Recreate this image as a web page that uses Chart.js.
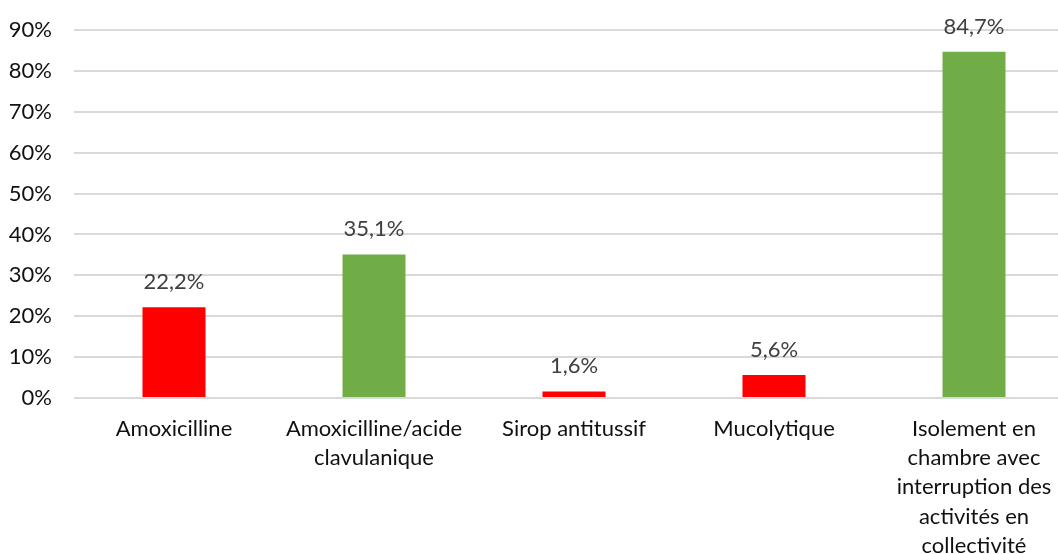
<!DOCTYPE html>
<html lang="fr">
<head>
  <meta charset="UTF-8">
  <title>Prescriptions et mesures</title>
  <script src="https://cdn.jsdelivr.net/npm/chart.js"></script>
  <style>
    html, body {
      margin: 0;
      padding: 0;
      background: #fff;
      overflow: hidden;
    }
    canvas {
      display: block;
    }
  </style>
</head>
<body>
  <canvas id="chart" width="1074" height="554"></canvas>

  <script>
    // Données
    const categories = [
      'Amoxicilline',
      ['Amoxicilline/acide', 'clavulanique'],
      'Sirop antitussif',
      'Mucolytique',
      ['Isolement en', 'chambre avec', 'interruption des', 'activités en', 'collectivité']
    ];
    const values = [22.2, 35.1, 1.6, 5.6, 84.7];
    const yTicks = [0, 10, 20, 30, 40, 50, 60, 70, 80, 90];

    const RED = '#ff0000';
    const GREEN = '#70ad47';
    const barColors = [RED, GREEN, RED, RED, GREEN];

    const FONT = 'Lato, "Open Sans", sans-serif';
    const FONT_SIZE = 22;

    const fmt = v => v.toFixed(1).replace('.', ',') + '%';

    // Étiquettes de valeur au-dessus des barres
    const valueLabels = {
      id: 'valueLabels',
      afterDatasetsDraw(chart) {
        const { ctx } = chart;
        const meta = chart.getDatasetMeta(0);
        ctx.save();
        ctx.font = FONT_SIZE + 'px ' + FONT;
        ctx.fillStyle = '#404040';
        ctx.textAlign = 'center';
        ctx.textBaseline = 'alphabetic';
        meta.data.forEach((bar, i) => {
          ctx.fillText(fmt(values[i]), bar.x, bar.y - 18);
        });
        ctx.restore();
      }
    };

    new Chart(document.getElementById('chart'), {
      type: 'bar',
      data: {
        labels: categories,
        datasets: [{
          data: values,
          backgroundColor: barColors,
          borderWidth: 0,
          categoryPercentage: 1,
          barPercentage: 0.315
        }]
      },
      options: {
        responsive: false,
        animation: false,
        layout: { padding: { top: 30, right: 0, left: 0, bottom: 0 } },
        plugins: {
          legend: { display: false },
          tooltip: { enabled: false }
        },
        scales: {
          x: {
            grid: { display: false, drawTicks: false },
            border: { display: false },
            ticks: {
              color: '#111',
              padding: 16,
              maxRotation: 0,
              autoSkip: false,
              font: { family: FONT, size: FONT_SIZE, lineHeight: 1.33 }
            },
            afterFit(scale) { scale.height = 156; }
          },
          y: {
            min: 0,
            max: 90,
            afterBuildTicks(scale) {
              scale.ticks = yTicks.map(v => ({ value: v }));
            },
            grid: { color: '#d9d9d9', lineWidth: 2, drawTicks: false },
            border: { display: false },
            ticks: {
              color: '#111',
              padding: 22,
              font: { family: FONT, size: FONT_SIZE },
              callback: v => v + '%'
            },
            afterFit(scale) {
              // largeur fixe, et pas de marge verticale pour les étiquettes
              scale.width = 74;
              scale.paddingTop = 0;
              scale.paddingBottom = 0;
            }
          }
        }
      },
      plugins: [valueLabels]
    });
  </script>
</body>
</html>
